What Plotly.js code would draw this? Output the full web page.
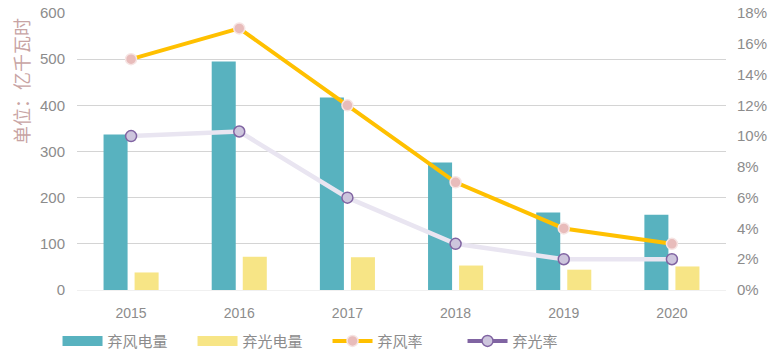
<!DOCTYPE html>
<html>
<head>
<meta charset="utf-8">
<script src="https://cdn.plot.ly/plotly-3.0.1.min.js"></script>
<style>html,body{margin:0;padding:0;background:#fff;}#chart{width:780px;height:361px;}</style>
</head>
<body>
<div id="chart"></div>
<script>
const years = ['2015','2016','2017','2018','2019','2020'];
const windCurtailed = [337, 495, 417, 276, 168, 163];
const solarCurtailed = [38, 72, 71, 53, 44, 51];
const windRate = [0.15, 0.17, 0.12, 0.07, 0.04, 0.03];
const solarRate = [0.10, 0.103, 0.06, 0.03, 0.02, 0.02];
const seriesNames = ['弃风电量', '弃光电量', '弃风率', '弃光率'];
const unitLabel = '单位：亿千瓦时';

const fontFam = '"Noto Sans CJK SC", "Noto Sans", sans-serif';
const numFam = '"Liberation Sans", sans-serif';
const grey = '#8c8c8c';
const windColor = '#58b2bf', solarColor = '#f7e586';

const traces = [
  {type:'bar', name:seriesNames[0], x:years, y:windCurtailed, showlegend:false,
   marker:{color:windColor}, yaxis:'y'},
  {type:'bar', name:seriesNames[1], x:years, y:solarCurtailed, showlegend:false,
   marker:{color:solarColor}, yaxis:'y'},
  {type:'scatter', mode:'lines+markers', name:seriesNames[2], x:years, y:windRate, yaxis:'y2',
   line:{color:'#ffc000', width:4}, showlegend:false,
   marker:{color:'#e8bcbb', size:11, line:{color:'#f6e4e3', width:1.5}}},
  {type:'scatter', mode:'lines+markers', name:seriesNames[3], x:years, y:solarRate, yaxis:'y2',
   line:{color:'#e9e5f1', width:4.5}, showlegend:false,
   marker:{color:'#cdc5dd', size:11, line:{color:'#8064a2', width:1.5}}},
  // legend entries
  {type:'scatter', mode:'lines', name:seriesNames[0], x:[null], y:[null],
   line:{color:windColor, width:10}},
  {type:'scatter', mode:'lines', name:seriesNames[1], x:[null], y:[null],
   line:{color:solarColor, width:10}},
  {type:'scatter', mode:'lines+markers', name:seriesNames[2], x:[null], y:[null], yaxis:'y2',
   line:{color:'#ffc000', width:4},
   marker:{color:'#e8bcbb', size:11, line:{color:'#f6e4e3', width:1.5}}},
  {type:'scatter', mode:'lines+markers', name:seriesNames[3], x:[null], y:[null], yaxis:'y2',
   line:{color:'#8064a2', width:4},
   marker:{color:'#cdc5dd', size:11, line:{color:'#8064a2', width:1.5}}}
];

const layout = {
  width:780, height:361,
  margin:{l:77, r:54, t:13, b:71, autoexpand:false},
  paper_bgcolor:'#fff', plot_bgcolor:'#fff',
  font:{family:fontFam, color:grey, size:14},
  barmode:'group', bargap:0.426, bargroupgap:0.226,
  showlegend:true,
  legend:{orientation:'h', x:-0.03, xanchor:'left', y:-0.125, yanchor:'top',
          font:{size:15, color:grey, family:fontFam}, traceorder:'normal',
          entrywidth:80, itemwidth:40},
  xaxis:{type:'category', showgrid:false, zeroline:false, showline:true,
         linecolor:'#f0f0f0', ticks:'', ticklabelstandoff:10,
         tickfont:{size:14, color:grey, family:numFam}},
  yaxis:{range:[0,600], dtick:100, showgrid:true, gridcolor:'#d4d4d4', gridwidth:1,
         zeroline:false, showline:false, ticks:'', ticklabelstandoff:11,
         tickfont:{size:15, color:grey, family:numFam}},
  yaxis2:{overlaying:'y', side:'right', range:[0,0.18], dtick:0.02, tickformat:'.0%',
          showgrid:false, zeroline:false, showline:false, ticks:'', ticklabelstandoff:10,
          tickfont:{size:15, color:grey, family:numFam}},
  annotations:[{text:unitLabel, textangle:-90, xref:'paper', yref:'paper',
                x:-0.086, xanchor:'center', y:0.755, yanchor:'middle', showarrow:false,
                font:{size:18, color:'#c8a4a4', family:fontFam}}]
};

Plotly.newPlot('chart', traces, layout, {displayModeBar:false, staticPlot:true});
</script>
</body>
</html>
